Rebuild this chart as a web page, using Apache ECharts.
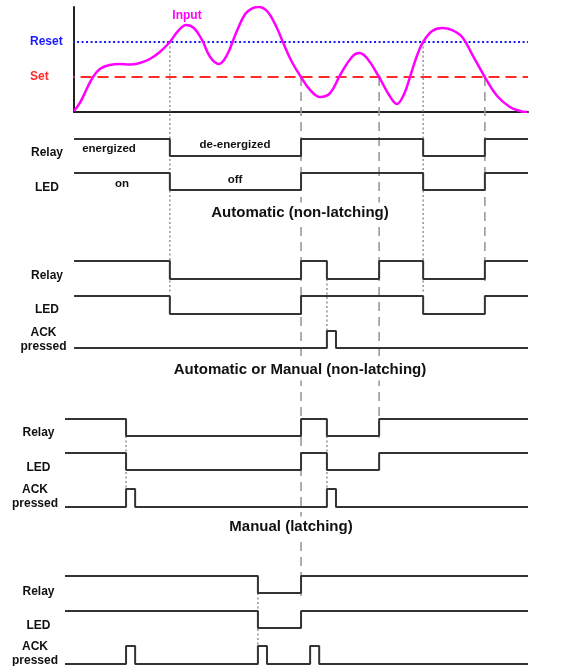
<!DOCTYPE html>
<html>
<head>
<meta charset="utf-8">
<script src="https://cdn.jsdelivr.net/npm/echarts@6/dist/echarts.min.js"></script>
<style>
  html, body { margin: 0; padding: 0; background: #fff; }
  #chart { width: 585px; height: 666px; }
</style>
</head>
<body>
<div id="chart"></div>
<script>
// input signal (time 0..100, level 0..100)
var inputTime = [0, 1.3, 2.9, 4.2, 5.7, 7.9, 10.1, 12.3, 14.5, 16.7, 18.9, 21.1, 22.9, 24.7, 26.4, 28.2,
  30, 31.9, 33.7, 35.7, 37.7, 39.4, 40.7, 42.7, 44.7, 46, 48, 50, 52, 54.2, 56.4, 58.6, 61.2, 62.8,
  64.5, 67.2, 69.4, 71.1, 72.7, 74, 75.6, 76.9, 78.9, 81.1, 83.3, 85.5, 87.9, 90.5, 93.2, 96, 98.2, 99.8];
var inputLevel = [1, 8.6, 22.9, 33.3, 41, 44.8, 45.7, 45.2, 46.7, 50.5, 57.1, 66.7, 77.1, 82.9, 80, 68.6,
  52.4, 45.7, 54.3, 75.2, 93.3, 99, 100, 95.2, 80, 66.7, 47.6, 33.3, 21, 14.3, 18, 35, 52.4, 56.2,
  51.4, 33.3, 16.2, 7.6, 17, 33.3, 54.3, 66.7, 77.1, 80, 78, 71.4, 53.3, 33.3, 15.2, 4.8, 1, 0];
var setLevel = 100 / 3;
var resetLevel = 200 / 3;

// moments where things switch
var resetCross = [21.1, 76.9];
var setCross = [50, 67.2, 90.5];
var ackPress = [11.45, 40.5, 52, 55.7];
var ackWidth = 2;

// each trace flips level at these times
var autoRelay = [21.1, 50, 76.9, 90.5];
var autoLed = [21.1, 50, 76.9, 90.5];
var mixRelay = [21.1, 50, 55.7, 67.2, 76.9, 90.5];
var mixLed = [21.1, 50, 76.9, 90.5];
var mixAck = [55.7];
var latchRelay = [11.45, 50, 55.7, 67.2];
var latchLed = [11.45, 50, 55.7, 67.2];
var latchAck = [11.45, 55.7];
var lastRelay = [40.5, 50];
var lastLed = [40.5, 50];
var lastAck = [11.45, 40.5, 52];

// row layout: [high y, low y]
var rows = {
  autoRelay: [139, 156], autoLed: [173, 190],
  mixRelay: [261, 279], mixLed: [296, 314], mixAck: [331, 348],
  latchRelay: [419, 436], latchLed: [453, 470], latchAck: [489, 507],
  lastRelay: [576, 593], lastLed: [611, 628], lastAck: [646, 664]
};

var font = '"Liberation Sans", Arial, sans-serif';

function pulses(times) {
  var e = [];
  times.forEach(function (t) { e.push(t, t + ackWidth); });
  return e;
}

function stepLine(edges, start, t0, row) {
  var lv = start;
  var pts = [[t0, lv]];
  edges.forEach(function (t) {
    pts.push([t, lv]);
    lv = 1 - lv;
    pts.push([t, lv]);
  });
  pts.push([100, lv]);
  return pts.map(function (p) { return [p[0], p[1] ? row[0] : row[1]]; });
}

var traces = [
  [autoRelay, 1, 0, rows.autoRelay],
  [autoLed, 1, 0, rows.autoLed],
  [mixRelay, 1, 0, rows.mixRelay],
  [mixLed, 1, 0, rows.mixLed],
  [pulses(mixAck), 0, 0, rows.mixAck],
  [latchRelay, 1, -2, rows.latchRelay],
  [latchLed, 1, -2, rows.latchLed],
  [pulses(latchAck), 0, -2, rows.latchAck],
  [lastRelay, 1, -2, rows.lastRelay],
  [lastLed, 1, -2, rows.lastLed],
  [pulses(lastAck), 0, -2, rows.lastAck]
];

var guides = [
  [resetCross[0], 42, 293, 'dot'],
  [resetCross[1], 42, 293, 'dot'],
  [setCross[0], 77, 600, 'dash'],
  [setCross[1], 77, 438, 'dash'],
  [setCross[2], 77, 287, 'dash'],
  [ackPress[3], rows.mixRelay[1], rows.mixAck[0], 'dot'],
  [ackPress[0], rows.latchRelay[1], rows.latchAck[0], 'dot'],
  [ackPress[3], rows.latchRelay[1], rows.latchAck[0], 'dot'],
  [ackPress[1], rows.lastRelay[1], rows.lastAck[0], 'dot']
];

var series = [];

series.push({
  type: 'line', xAxisIndex: 0, yAxisIndex: 0, symbol: 'none', smooth: 0.4,
  data: inputTime.map(function (t, i) { return [t, inputLevel[i]]; }),
  lineStyle: { color: '#ff00ff', width: 2.5 }, z: 4
});
series.push({
  type: 'line', xAxisIndex: 0, yAxisIndex: 0, symbol: 'none', clip: false,
  data: [[-2.3, setLevel], [100, setLevel]],
  lineStyle: { color: '#ff2a2a', width: 2, type: [11, 6] }
});
series.push({
  type: 'line', xAxisIndex: 0, yAxisIndex: 0, symbol: 'none', clip: false,
  data: [[-2.3, resetLevel], [100, resetLevel]],
  lineStyle: { color: '#1a1aff', width: 2, type: [2, 2.5] }
});

guides.forEach(function (g) {
  series.push({
    type: 'line', xAxisIndex: 1, yAxisIndex: 1, symbol: 'none',
    data: [[g[0], g[1]], [g[0], g[2]]],
    lineStyle: { color: '#9a9a9a', width: 1.6, type: g[3] === 'dot' ? [2, 2.5] : [9, 6] }
  });
});

traces.forEach(function (tr) {
  series.push({
    type: 'line', xAxisIndex: 1, yAxisIndex: 1, symbol: 'none',
    data: stepLine(tr[0], tr[1], tr[2], tr[3]),
    lineStyle: { color: '#333', width: 2 }, z: 3
  });
});

function txt(text, x, y, size, opts) {
  opts = opts || {};
  return {
    type: 'text', x: x, y: y, z: opts.z || 50,
    style: {
      text: text, fill: opts.color || '#111', fontSize: size, fontWeight: 'bold', fontFamily: font,
      align: 'center', verticalAlign: 'middle',
      backgroundColor: opts.bg, padding: opts.bg ? [3, 5] : 0
    }
  };
}

var texts = [
  txt('Input', 187, 16, 12, { color: '#ff00ff' }),
  txt('energized', 109, 149, 11.5), txt('de-energized', 235, 145, 11.5),
  txt('on', 122, 184, 11.5), txt('off', 235, 180, 11.5),
  txt('Relay', 47, 153, 12), txt('LED', 47, 188, 12),
  txt('Automatic (non-latching)', 300, 213, 15, { bg: '#fff', z: 60 }),
  txt('Relay', 47, 276, 12), txt('LED', 47, 310, 12), txt('ACK', 43.5, 333, 12), txt('pressed', 43.5, 347, 12),
  txt('Automatic or Manual (non-latching)', 300, 370, 15, { bg: '#fff', z: 60 }),
  txt('Relay', 38.5, 433, 12), txt('LED', 38.5, 468, 12), txt('ACK', 35, 490, 12), txt('pressed', 35, 504, 12),
  txt('Manual (latching)', 291, 527, 15, { bg: '#fff', z: 60 }),
  txt('Relay', 38.5, 592, 12), txt('LED', 38.5, 626, 12), txt('ACK', 35, 647, 12), txt('pressed', 35, 661, 12)
];

var chart = echarts.init(document.getElementById('chart'));
chart.setOption({
  animation: false,
  backgroundColor: '#fff',
  grid: [
    { left: 74, right: 57, top: 7, height: 105, outerBoundsMode: 'none' },
    { left: 65, right: 57, top: 0, bottom: 0, outerBoundsMode: 'none' }
  ],
  xAxis: [
    { gridIndex: 0, type: 'value', min: 0, max: 100,
      axisLine: { show: true, lineStyle: { color: '#222', width: 2 } },
      axisTick: { show: false }, axisLabel: { show: false }, splitLine: { show: false } },
    { gridIndex: 1, type: 'value', min: -2, max: 100, show: false }
  ],
  yAxis: [
    { gridIndex: 0, type: 'value', min: 0, max: 100, interval: 100 / 3,
      axisLine: { show: true, lineStyle: { color: '#222', width: 2 } },
      axisTick: { show: false }, splitLine: { show: false },
      axisLabel: {
        align: 'left', margin: 44,
        formatter: function (v) {
          if (Math.abs(v - setLevel) < 1) return '{s|Set}';
          if (Math.abs(v - resetLevel) < 1) return '{r|Reset}';
          return '';
        },
        rich: {
          s: { color: '#ff2a2a', fontWeight: 'bold', fontSize: 12, fontFamily: font },
          r: { color: '#1a1aff', fontWeight: 'bold', fontSize: 12, fontFamily: font }
        }
      } },
    { gridIndex: 1, type: 'value', min: 0, max: 666, inverse: true, show: false }
  ],
  graphic: texts,
  series: series
});
</script>
</body>
</html>
